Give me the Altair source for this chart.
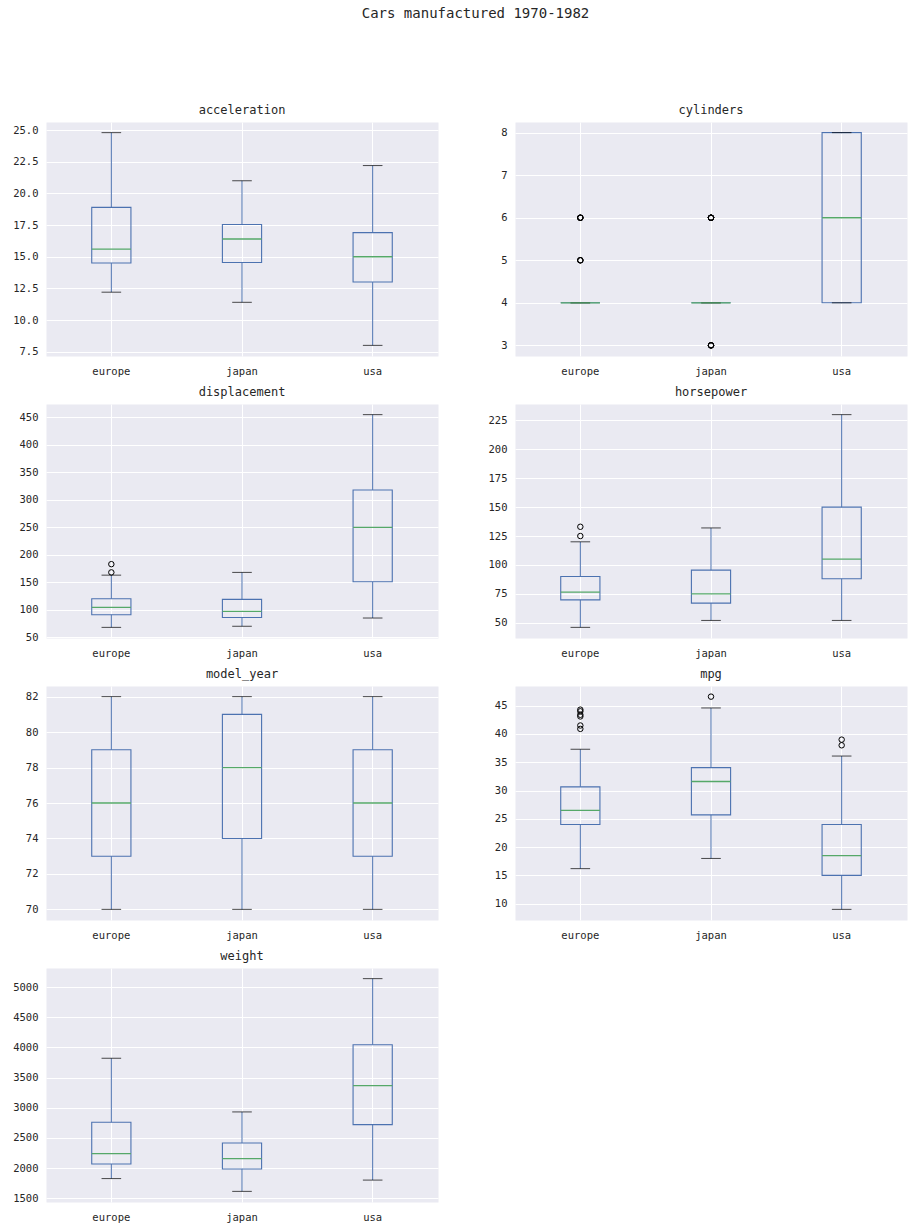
import altair as alt
import pandas as pd

# Origins shown on every panel's x axis
ORIGINS = ["europe", "japan", "usa"]

# Box statistics per variable, one value per origin (europe, japan, usa):
# lower whisker, first quartile, median, third quartile, upper whisker
acceleration = {
    "low": [12.2, 11.4, 8.0],
    "q1": [14.5, 14.55, 13.0],
    "median": [15.6, 16.4, 15.0],
    "q3": [18.9, 17.55, 16.9],
    "high": [24.8, 21.0, 22.2],
}
cylinders = {
    "low": [4, 4, 4],
    "q1": [4, 4, 4],
    "median": [4, 4, 6],
    "q3": [4, 4, 8],
    "high": [4, 4, 8],
}
displacement = {
    "low": [68, 70, 85],
    "q1": [91, 86, 151],
    "median": [104.5, 97, 250],
    "q3": [120, 119, 318],
    "high": [163, 168, 455],
}
horsepower = {
    "low": [46, 52, 52],
    "q1": [69.75, 67, 88],
    "median": [76.5, 75, 105],
    "q3": [90, 95.5, 150],
    "high": [120, 132, 230],
}
model_year = {
    "low": [70, 70, 70],
    "q1": [73, 74, 73],
    "median": [76, 78, 76],
    "q3": [79, 81, 79],
    "high": [82, 82, 82],
}
mpg = {
    "low": [16.2, 18.0, 9.0],
    "q1": [24.0, 25.7, 15.0],
    "median": [26.5, 31.6, 18.5],
    "q3": [30.65, 34.05, 24.0],
    "high": [37.3, 44.6, 36.1],
}
weight = {
    "low": [1825, 1613, 1800],
    "q1": [2067, 1985, 2720],
    "median": [2240, 2155, 3365],
    "q3": [2760, 2415, 4045],
    "high": [3820, 2930, 5140],
}

# Points beyond the whiskers (repeated values are separate cars)
cylinders_outliers = {
    "europe": [5, 5, 5, 6, 6, 6, 6],
    "japan": [3, 3, 3, 3, 6, 6, 6, 6, 6, 6],
    "usa": [],
}
displacement_outliers = {"europe": [168, 183], "japan": [], "usa": []}
horsepower_outliers = {"europe": [125, 133], "japan": [], "usa": []}
mpg_outliers = {
    "europe": [40.9, 41.5, 43.1, 43.4, 44.0, 44.3],
    "japan": [46.6],
    "usa": [38.0, 39.0],
}
no_outliers = {"europe": [], "japan": [], "usa": []}

# Tick values for each y axis
acceleration_ticks = [7.5, 10.0, 12.5, 15.0, 17.5, 20.0, 22.5, 25.0]
cylinders_ticks = [3, 4, 5, 6, 7, 8]
displacement_ticks = [50, 100, 150, 200, 250, 300, 350, 400, 450]
horsepower_ticks = [50, 75, 100, 125, 150, 175, 200, 225]
model_year_ticks = [70, 72, 74, 76, 78, 80, 82]
mpg_ticks = [10, 15, 20, 25, 30, 35, 40, 45]
weight_ticks = [1500, 2000, 2500, 3000, 3500, 4000, 4500, 5000]

MONO = "DejaVu Sans Mono"
TEXT = "#262626"
BLUE = "#4C72B0"
GREEN = "#55A868"
BG = "#EAEAF2"
PANEL_W = 392
PANEL_H = 234
BOX_FRAC = 0.3


def panel(name, stats, outliers, ticks, fmt):
    df = pd.DataFrame({"origin": ORIGINS, **stats})
    out_rows = [(o, v) for o in ORIGINS for v in outliers[o]]
    out_df = pd.DataFrame(out_rows, columns=["origin", "value"])

    values = stats["low"] + stats["high"] + [v for _, v in out_rows]
    lo, hi = min(values), max(values)
    margin = 0.05 * (hi - lo)
    yscale = alt.Scale(domain=[lo - margin, hi + margin], nice=False, zero=False)
    yaxis = alt.Axis(values=ticks, format=fmt, title=None)

    x = alt.X(
        "origin:N",
        sort=ORIGINS,
        scale=alt.Scale(domain=ORIGINS, paddingInner=0, paddingOuter=0),
        axis=alt.Axis(title=None, labelAngle=0, grid=True, bandPosition=0.5),
    )
    base = alt.Chart(df).encode(x=x)
    step = PANEL_W / len(ORIGINS)

    box = base.mark_bar(
        stroke=BLUE, strokeWidth=1.1, fillOpacity=0,
        width=alt.RelativeBandSize(BOX_FRAC),
    ).encode(y=alt.Y("q1:Q", scale=yscale, axis=yaxis), y2="q3:Q")
    whisk_lo = base.mark_rule(color=BLUE, strokeWidth=1).encode(
        y=alt.Y("low:Q", scale=yscale, axis=yaxis), y2="q1:Q")
    whisk_hi = base.mark_rule(color=BLUE, strokeWidth=1).encode(
        y=alt.Y("q3:Q", scale=yscale, axis=yaxis), y2="high:Q")
    cap_lo = base.mark_tick(color="black", thickness=1, size=step * BOX_FRAC / 2).encode(
        y=alt.Y("low:Q", scale=yscale, axis=yaxis))
    cap_hi = base.mark_tick(color="black", thickness=1, size=step * BOX_FRAC / 2).encode(
        y=alt.Y("high:Q", scale=yscale, axis=yaxis))
    med = base.mark_tick(color=GREEN, thickness=1.3, size=step * BOX_FRAC, opacity=1).encode(
        y=alt.Y("median:Q", scale=yscale, axis=yaxis))

    layers = [whisk_lo, whisk_hi, box, cap_lo, cap_hi, med]
    if len(out_df):
        pts = alt.Chart(out_df).mark_point(
            shape="circle", filled=False, color="black", size=30, strokeWidth=1, opacity=1
        ).encode(x=x, y=alt.Y("value:Q", scale=yscale, axis=yaxis))
        layers.append(pts)

    return alt.layer(*layers).properties(
        width=PANEL_W,
        height=PANEL_H,
        title=alt.TitleParams(
            name, font=MONO, fontSize=12, fontWeight="normal", color=TEXT, offset=5
        ),
    )


panels = [
    panel("acceleration", acceleration, no_outliers, acceleration_ticks, ".1f"),
    panel("cylinders", cylinders, cylinders_outliers, cylinders_ticks, "d"),
    panel("displacement", displacement, displacement_outliers, displacement_ticks, "d"),
    panel("horsepower", horsepower, horsepower_outliers, horsepower_ticks, "d"),
    panel("model_year", model_year, no_outliers, model_year_ticks, "d"),
    panel("mpg", mpg, mpg_outliers, mpg_ticks, "d"),
    panel("weight", weight, no_outliers, weight_ticks, "d"),
]

chart = (
    alt.concat(*panels, columns=2, spacing={"row": 3, "column": 39})
    .properties(
        title=alt.TitleParams(
            "Cars manufactured 1970-1982", font=MONO, fontSize=14,
            fontWeight="normal", color=TEXT, offset=83, anchor="middle", dx=17,
        ),
        padding={"left": 9, "top": 6, "right": 5, "bottom": 5},
        background="white",
    )
    .configure_view(fill=BG, stroke="transparent")
    .configure_axis(
        labelFont=MONO, labelFontSize=10.5, labelColor=TEXT,
        gridColor="white", gridWidth=1, gridOpacity=1,
        ticks=False, domain=False,
    )
    .configure_axisY(labelPadding=8, minExtent=36, maxExtent=36)
    .configure_axisX(labelPadding=10, minExtent=25, maxExtent=25)
)

chart.save("out.html", embed_options={"renderer": "svg", "actions": False})
